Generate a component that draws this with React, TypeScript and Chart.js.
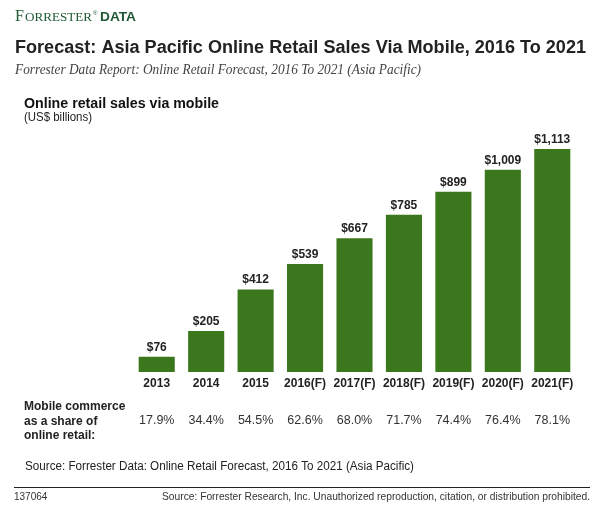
import React, { useEffect, useRef } from "react";
import { Chart, registerables } from "chart.js";

Chart.register(...registerables);

const categories = ["2013", "2014", "2015", "2016(F)", "2017(F)", "2018(F)", "2019(F)", "2020(F)", "2021(F)"];
const sales = [76, 205, 412, 539, 667, 785, 899, 1009, 1113];
const shares = [17.9, 34.4, 54.5, 62.6, 68.0, 71.7, 74.4, 76.4, 78.1];
const shareLabelLines = ["Mobile commerce", "as a share of", "online retail:"];

const SANS = '"Liberation Sans", Arial, Helvetica, sans-serif';
const SERIF = '"Liberation Serif", "Times New Roman", serif';

function text(ctx: CanvasRenderingContext2D, s: string, x: number, y: number, font: string, color: string, align: CanvasTextAlign = "left", width?: number) {
  ctx.save();
  ctx.font = font;
  ctx.fillStyle = color;
  ctx.textBaseline = "alphabetic";
  ctx.textAlign = align;
  if (width) {
    const w = ctx.measureText(s).width;
    const k = width / w;
    ctx.translate(x, y);
    ctx.scale(k, 1);
    ctx.fillText(s, 0, 0);
  } else {
    ctx.fillText(s, x, y);
  }
  ctx.restore();
}

const decorPlugin = {
  id: "decor",
  afterDraw(chart: any) {
    const ctx: CanvasRenderingContext2D = chart.ctx;
    const xs = chart.scales.x;
    const ys = chart.scales.y;
    const green = "#1f5a36";
    // Logo
    text(ctx, "F", 15, 21, `16px ${SERIF}`, green);
    text(ctx, "ORRESTER", 25, 21, `12.5px ${SERIF}`, green, "left", 67);
    text(ctx, "®", 93, 15, `6px ${SANS}`, green);
    text(ctx, "DATA", 100, 21, `bold 12px ${SANS}`, green, "left", 36);
    // Titles
    text(ctx, "Forecast: Asia Pacific Online Retail Sales Via Mobile, 2016 To 2021", 15, 53, `bold 18px ${SANS}`, "#222", "left", 571);
    text(ctx, "Forrester Data Report: Online Retail Forecast, 2016 To 2021 (Asia Pacific)", 15, 74, `italic 14px ${SERIF}`, "#444", "left", 406);
    text(ctx, "Online retail sales via mobile", 24, 108, `bold 14px ${SANS}`, "#111", "left", 195);
    text(ctx, "(US$ billions)", 24, 121, `12px ${SANS}`, "#222", "left", 68);
    // Bar values, categories and shares
    sales.forEach((v, i) => {
      const x = xs.getPixelForValue(i);
      const top = ys.getPixelForValue(v);
      text(ctx, "$" + v.toLocaleString("en-US"), x, top - 6, `bold 12px ${SANS}`, "#222", "center");
      text(ctx, categories[i], x, 387, `bold 12px ${SANS}`, "#222", "center");
      text(ctx, shares[i].toFixed(1) + "%", x, 424, `12.5px ${SANS}`, "#333", "center");
    });
    shareLabelLines.forEach((s, i) => {
      text(ctx, s, 24, 410 + i * 14.5, `bold 12px ${SANS}`, "#222");
    });
    text(ctx, "Source: Forrester Data: Online Retail Forecast, 2016 To 2021 (Asia Pacific)", 25, 470, `12.5px ${SANS}`, "#222", "left", 389);
    // Footer
    ctx.save();
    ctx.strokeStyle = "#222";
    ctx.lineWidth = 1;
    ctx.beginPath();
    ctx.moveTo(14, 487.5);
    ctx.lineTo(590, 487.5);
    ctx.stroke();
    ctx.restore();
    text(ctx, "137064", 14, 500, `10px ${SANS}`, "#333");
    text(ctx, "Source: Forrester Research, Inc. Unauthorized reproduction, citation, or distribution prohibited.", 162, 500, `10px ${SANS}`, "#333", "left", 428);
  },
};

export default function App() {
  const ref = useRef<HTMLCanvasElement | null>(null);
  useEffect(() => {
    if (!ref.current) return;
    const chart = new Chart(ref.current, {
      type: "bar",
      data: {
        labels: categories,
        datasets: [
          {
            data: sales,
            backgroundColor: "#3b781d",
            barPercentage: 0.73,
            categoryPercentage: 1,
          },
        ],
      },
      options: {
        animation: false,
        responsive: false,
        events: [],
        layout: { padding: { left: 132, right: 24, top: 131.5, bottom: 140 } },
        plugins: { legend: { display: false }, tooltip: { enabled: false }, title: { display: false } },
        scales: {
          x: { display: false },
          y: { display: false, min: 0, max: 1200 },
        },
      },
      plugins: [decorPlugin],
    });
    return () => chart.destroy();
  }, []);
  return (
    <div style={{ position: "absolute", left: 0, top: 0, width: 601, height: 512, background: "#fff" }}>
      <canvas ref={ref} width={601} height={512} style={{ width: 601, height: 512, display: "block" }} />
    </div>
  );
}
